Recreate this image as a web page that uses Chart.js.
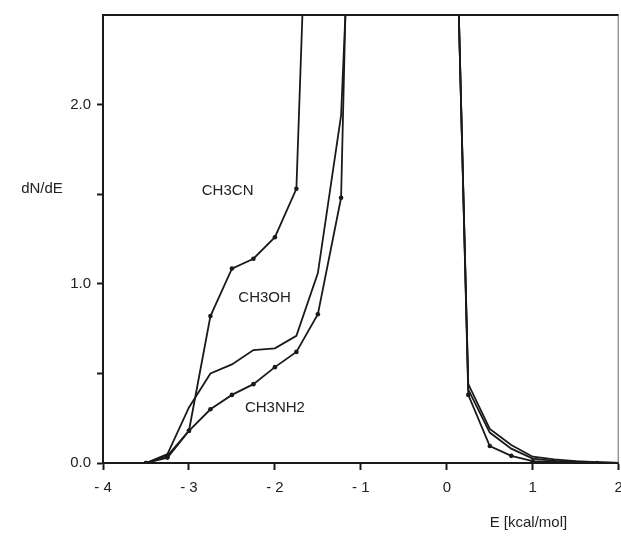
<!DOCTYPE html>
<html>
<head>
<meta charset="utf-8">
<title>dN/dE</title>
<script src="https://cdn.jsdelivr.net/npm/chart.js@4.4.1/dist/chart.umd.min.js"></script>
<style>
    html, body { margin: 0; padding: 0; background: #fff; }
    #wrap { width: 621px; height: 538px; }
</style>
</head>
<body>
<div id="wrap"><canvas id="dndeChart" width="621" height="538"></canvas></div>
<script>
// energies (kcal/mol) and dN/dE, left branch (below the gap)
const cnLeftE = [-3.5, -3.25, -3.0, -2.75, -2.5, -2.25, -2.0, -1.75, -1.68];
const cnLeftV = [0.0, 0.03, 0.18, 0.82, 1.085, 1.14, 1.26, 1.53, 2.5];
const ohLeftE = [-3.5, -3.25, -3.0, -2.75, -2.5, -2.25, -2.0, -1.75, -1.5, -1.23, -1.18];
const ohLeftV = [0.0, 0.05, 0.31, 0.50, 0.55, 0.63, 0.64, 0.71, 1.06, 1.94, 2.5];
const nhLeftE = [-3.5, -3.25, -3.0, -2.75, -2.5, -2.25, -2.0, -1.75, -1.5, -1.23, -1.18];
const nhLeftV = [0.0, 0.04, 0.18, 0.30, 0.38, 0.44, 0.535, 0.62, 0.83, 1.48, 2.5];

// right branch (above the gap)
const rightE = [0.14, 0.25, 0.5, 0.75, 1.0, 1.25, 1.5, 1.75, 2.0];
const cnRightV = [2.5, 0.38, 0.095, 0.04, 0.01, 0.005, 0.0, 0.0, 0.0];
const ohRightV = [2.5, 0.44, 0.19, 0.10, 0.035, 0.02, 0.01, 0.005, 0.0];
const nhRightV = [2.5, 0.41, 0.17, 0.08, 0.025, 0.012, 0.007, 0.003, 0.0];

const seriesNames = ['CH3CN', 'CH3OH', 'CH3NH2'];
const xTicks = [-4, -3, -2, -1, 0, 1, 2];
const yTicks = [0.0, 1.0, 2.0];

function pts(xs, ys) {
    return xs.map((x, i) => ({ x: x, y: ys[i] }));
}

const ink = '#1a1a1a';
const fontFamily = '"Liberation Sans", Arial, sans-serif';
// no dot where the line leaves the frame
const dotRadius = ctx => (ctx.raw && (ctx.raw.y >= 2.5 || ctx.raw.x >= 2) ? 0 : 2.3);

function branch(label, data, dotted) {
    return {
        label: label,
        data: data,
        borderColor: ink,
        backgroundColor: ink,
        borderWidth: 1.8,
        pointRadius: dotted ? dotRadius : 0,
        pointHoverRadius: 0,
        pointBorderWidth: 0,
        tension: 0,
        fill: false
    };
}

// frame (top / right) and the free text on the plot
const annotations = {
    id: 'annotations',
    afterDraw(chart) {
        const c = chart.ctx;
        const a = chart.chartArea;
        const xs = chart.scales.x;
        const ys = chart.scales.y;
        c.save();
        c.strokeStyle = ink;
        c.lineWidth = 2;
        c.beginPath();
        c.moveTo(a.left, a.top);
        c.lineTo(a.right, a.top);
        c.stroke();
        c.strokeStyle = '#666';
        c.lineWidth = 1;
        c.beginPath();
        c.moveTo(a.right - 0.5, a.top);
        c.lineTo(a.right - 0.5, a.bottom);
        c.stroke();

        c.fillStyle = '#222';
        c.font = '15px ' + fontFamily;
        c.textAlign = 'center';
        c.textBaseline = 'middle';
        c.fillText(seriesNames[0], xs.getPixelForValue(-2.55), ys.getPixelForValue(1.52));
        c.fillText(seriesNames[1], xs.getPixelForValue(-2.12), ys.getPixelForValue(0.92));
        c.fillText(seriesNames[2], xs.getPixelForValue(-2.0), ys.getPixelForValue(0.31));

        c.fillText('dN/dE', a.left - 61, ys.getPixelForValue(1.53));
        c.fillText('E [kcal/mol]', xs.getPixelForValue(0.95), a.bottom + 60);
        c.restore();
    }
};

const ctx = document.getElementById('dndeChart').getContext('2d');
new Chart(ctx, {
    type: 'line',
    data: {
        datasets: [
            branch(seriesNames[0], pts(cnLeftE, cnLeftV), true),
            branch(seriesNames[1], pts(ohLeftE, ohLeftV), false),
            branch(seriesNames[2], pts(nhLeftE, nhLeftV), true),
            branch(seriesNames[0], pts(rightE, cnRightV), true),
            branch(seriesNames[1], pts(rightE, ohRightV), false),
            branch(seriesNames[2], pts(rightE, nhRightV), false)
        ]
    },
    options: {
        responsive: false,
        animation: false,
        layout: { padding: { top: 12, right: 0, left: 0, bottom: 0 } },
        plugins: {
            legend: { display: false },
            tooltip: { enabled: false }
        },
        scales: {
            x: {
                type: 'linear',
                min: -4,
                max: 2,
                afterFit: scale => {
                    scale.height = 75;
                    scale.paddingLeft = 0;
                    scale.paddingRight = 0;
                },
                afterBuildTicks: scale => { scale.ticks = xTicks.map(v => ({ value: v })); },
                ticks: {
                    color: '#222',
                    padding: 9,
                    maxRotation: 0,
                    font: { family: fontFamily, size: 15 },
                    callback: v => (v < 0 ? '- ' + Math.abs(v) : String(v))
                },
                grid: {
                    drawOnChartArea: false,
                    drawTicks: true,
                    tickLength: 7,
                    tickWidth: 2,
                    color: ink
                },
                border: { display: true, color: ink, width: 2 }
            },
            y: {
                min: 0,
                max: 2.5,
                afterFit: scale => { scale.width = 103; },
                afterBuildTicks: scale => { scale.ticks = [0, 0.5, 1, 1.5, 2].map(v => ({ value: v })); },
                ticks: {
                    color: '#222',
                    padding: 6,
                    font: { family: fontFamily, size: 15 },
                    callback: v => (yTicks.includes(v) ? v.toFixed(1) : '')
                },
                grid: {
                    drawOnChartArea: false,
                    drawTicks: true,
                    tickLength: 6,
                    tickWidth: 2,
                    color: ink
                },
                border: { display: true, color: ink, width: 2 }
            }
        }
    },
    plugins: [annotations]
});
</script>
</body>
</html>
